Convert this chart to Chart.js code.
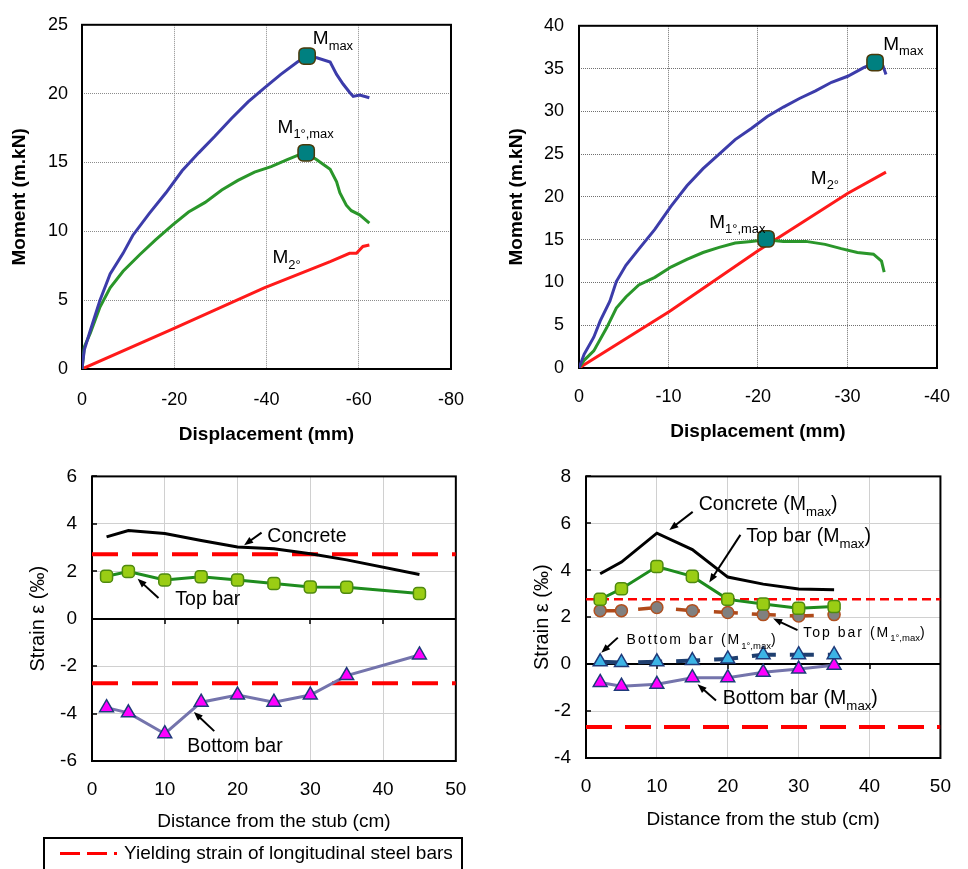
<!DOCTYPE html>
<html>
<head>
<meta charset="utf-8">
<script src="https://cdn.jsdelivr.net/npm/chart.js@4/dist/chart.umd.min.js"></script>
<style>
  body { margin: 0; background: #fff; width: 968px; height: 869px; position: relative; overflow: hidden;
         font-family: "Liberation Sans", Arial, sans-serif; }
  canvas { position: absolute; }
  #legend { position: absolute; left: 43px; top: 837px; width: 416px; height: 40px; border: 2px solid #000; }
  #legend .dash { position: absolute; left: 15px; top: 13px; width: 57px; height: 3px;
                  background: repeating-linear-gradient(90deg, #f00 0 20px, transparent 20px 27px); }
  #legend .txt { position: absolute; left: 79px; top: 3px; font-size: 19px; line-height: 22px; white-space: nowrap; }
</style>
</head>
<body>
<canvas id="momA" width="484" height="450" style="left:0;top:0"></canvas>
<canvas id="momB" width="484" height="450" style="left:484px;top:0"></canvas>
<canvas id="strA" width="484" height="390" style="left:0;top:450px"></canvas>
<canvas id="strB" width="484" height="390" style="left:484px;top:450px"></canvas>
<div id="legend"><div class="dash"></div><div class="txt">Yielding strain of longitudinal steel bars</div></div>
<script>
// moment vs displacement, beam A
var dispMaxA = [0, -0.5, -1.8, -3.9, -6.1, -8.9, -11.0, -14.6, -18.2, -21.7, -25.3, -28.8, -32.4, -36.0, -39.5, -43.1, -46.7, -48.6, -50.9, -53.8, -55.2, -56.6, -58.0, -58.8, -60.2, -62.3];
var momMaxA = [0, 1.4, 2.8, 5.0, 6.9, 8.4, 9.7, 11.3, 12.8, 14.4, 15.7, 16.9, 18.2, 19.4, 20.4, 21.4, 22.3, 22.7, 22.6, 22.3, 21.4, 20.7, 20.1, 19.8, 19.9, 19.7];
var dispM1A = [0, -0.5, -1.8, -3.9, -6.1, -8.9, -12.5, -16.0, -19.6, -23.1, -26.7, -30.3, -33.8, -37.4, -41.0, -44.5, -47.4, -48.6, -50.9, -53.8, -55.2, -55.9, -57.3, -58.4, -60.2, -62.3];
var momM1A = [0, 1.6, 2.6, 4.5, 5.9, 7.1, 8.3, 9.4, 10.45, 11.4, 12.1, 13.0, 13.7, 14.3, 14.7, 15.2, 15.6, 15.7, 15.2, 14.5, 13.6, 12.8, 11.9, 11.5, 11.2, 10.6];
var dispM2A = [0, -19.6, -39.5, -53.8, -58.0, -59.5, -60.9, -62.3];
var momM2A = [0, 2.9, 5.9, 7.8, 8.4, 8.4, 8.9, 9.0];
var peakDispA = [-48.8, -48.6];
var peakMomA = [22.73, 15.7];

// moment vs displacement, beam B
var dispMaxB = [0, -0.57, -1.65, -2.37, -3.45, -4.17, -5.24, -6.68, -8.47, -10.27, -12.06, -13.86, -15.66, -17.45, -19.25, -21.04, -22.84, -24.63, -26.43, -28.22, -30.02, -31.81, -33.07, -33.97, -34.3];
var momMaxB = [0, 1.6, 3.6, 5.5, 7.8, 10.1, 12.0, 13.9, 16.2, 18.9, 21.3, 23.3, 25.0, 26.7, 28.0, 29.4, 30.5, 31.5, 32.4, 33.4, 34.1, 35.1, 35.7, 35.3, 34.3];
var dispM1B = [0, -0.57, -1.65, -3.09, -4.17, -5.24, -6.68, -8.47, -10.27, -12.06, -13.86, -15.66, -17.45, -19.25, -20.86, -22.84, -25.35, -27.5, -29.3, -31.1, -32.9, -33.8, -34.1];
var momM1B = [0, 0.9, 2.0, 4.7, 7.0, 8.3, 9.7, 10.6, 11.8, 12.7, 13.5, 14.1, 14.6, 14.8, 15.0, 14.8, 14.8, 14.45, 13.95, 13.5, 13.3, 12.5, 11.2];
var dispM2B = [0, -10.1, -20.0, -30.0, -34.3];
var momM2B = [0, 6.6, 13.7, 20.4, 22.9];
var peakDispB = [-33.08, -20.9];
var peakMomB = [35.7, 15.1];

// strain along the beam, beam A
var distA = [2, 5, 10, 15, 20, 25, 30, 35, 45];
var concreteA = [3.45, 3.72, 3.59, 3.3, 3.02, 2.95, 2.74, 2.48, 1.86];
var topBarA = [1.79, 1.99, 1.63, 1.77, 1.63, 1.48, 1.34, 1.33, 1.06];
var bottomBarA = [-3.75, -3.97, -4.85, -3.52, -3.22, -3.52, -3.22, -2.4, -1.53];
var yieldA = [2.72, -2.72];

// strain along the beam, beam B
var distB = [2, 5, 10, 15, 20, 25, 30, 35];
var concreteB = [3.85, 4.35, 5.58, 4.88, 3.71, 3.41, 3.2, 3.17];
var topBarB = [2.76, 3.21, 4.16, 3.74, 2.76, 2.56, 2.38, 2.46];
var topBar1B = [2.28, 2.28, 2.41, 2.28, 2.2, 2.11, 2.05, 2.11];
var bottomBar1B = [0.1, 0.07, 0.1, 0.15, 0.22, 0.4, 0.4, 0.4];
var bottomBarB = [-0.78, -0.94, -0.86, -0.58, -0.58, -0.35, -0.21, -0.05];
var yieldB = [2.76, -2.68];

var distRange = [0, 50];

var FONT = '"Liberation Sans", Arial, sans-serif';
Chart.defaults.font.family = FONT;
Chart.defaults.color = '#000';
Chart.defaults.plugins.legend.display = false;
Chart.defaults.plugins.tooltip.enabled = false;

function pts(xs, ys) {
  return xs.map(function (x, i) { return { x: x, y: ys[i] }; });
}

function curve(xs, ys, color, width, dash) {
  return { data: pts(xs, ys), showLine: true, borderColor: color, borderWidth: width,
           borderDash: dash || [], pointRadius: 0, tension: 0 };
}

function marks(xs, ys, style, r, fill, edge, line, lw, dash) {
  return { data: pts(xs, ys), showLine: !!line, borderColor: line || edge, borderWidth: lw || 0,
           borderDash: dash || [], pointStyle: style, pointRadius: r, pointBackgroundColor: fill,
           pointBorderColor: edge, pointBorderWidth: 1.5, tension: 0 };
}

function level(v, width, dash) {
  return curve(distRange, [v, v], '#ff0000', width, dash);
}

function arrow(ctx, x1, y1, x2, y2) {
  var a = Math.atan2(y2 - y1, x2 - x1), h = 9, w = 3.5;
  ctx.beginPath();
  ctx.moveTo(x1, y1);
  ctx.lineTo(x2 - Math.cos(a) * h * 0.7, y2 - Math.sin(a) * h * 0.7);
  ctx.stroke();
  ctx.beginPath();
  ctx.moveTo(x2, y2);
  ctx.lineTo(x2 - h * Math.cos(a) + w * Math.sin(a), y2 - h * Math.sin(a) - w * Math.cos(a));
  ctx.lineTo(x2 - h * Math.cos(a) - w * Math.sin(a), y2 - h * Math.sin(a) + w * Math.cos(a));
  ctx.closePath();
  ctx.fill();
}

// frame, zero line and the text labels with their pointers
function notes(spec) {
  return {
    id: 'notes',
    beforeDatasetsDraw: function (chart) {
      var ctx = chart.ctx, a = chart.chartArea, sx = chart.scales.x, sy = chart.scales.y;
      ctx.save();
      ctx.strokeStyle = '#000';
      if (spec.zeroTicks) {
        var y0 = Math.round(sy.getPixelForValue(0));
        ctx.lineWidth = 2;
        ctx.beginPath();
        ctx.moveTo(a.left, y0);
        ctx.lineTo(a.right, y0);
        ctx.stroke();
        ctx.lineWidth = 1.5;
        ctx.beginPath();
        spec.zeroTicks.forEach(function (v) {
          var x = Math.round(sx.getPixelForValue(v));
          ctx.moveTo(x, y0);
          ctx.lineTo(x, y0 + 5);
        });
        sy.ticks.forEach(function (t) {
          var y = Math.round(sy.getPixelForValue(t.value));
          ctx.moveTo(a.left, y);
          ctx.lineTo(a.left + 5, y);
        });
        ctx.stroke();
      }
      ctx.lineWidth = 2;
      ctx.strokeRect(a.left, a.top, a.right - a.left, a.bottom - a.top);
      ctx.restore();
    },
    afterDatasetsDraw: function (chart) {
      var ctx = chart.ctx, sx = chart.scales.x, sy = chart.scales.y;
      ctx.save();
      ctx.strokeStyle = '#000';
      ctx.fillStyle = '#000';
      ctx.lineWidth = 2;
      (spec.arrows || []).forEach(function (p) {
        arrow(ctx, sx.getPixelForValue(p[0]), sy.getPixelForValue(p[1]),
              sx.getPixelForValue(p[2]), sy.getPixelForValue(p[3]));
      });
      ctx.textBaseline = 'alphabetic';
      ctx.textAlign = 'left';
      (spec.labels || []).forEach(function (l) {
        var x = sx.getPixelForValue(l.x), y = sy.getPixelForValue(l.y);
        l.runs.forEach(function (r) {
          var sub = r[1] === 1;
          var fs = sub ? l.size * 0.68 : l.size;
          ctx.font = fs + 'px ' + FONT;
          ctx.letterSpacing = (sub ? 0 : (l.spacing || 0)) + 'px';
          ctx.fillText(r[0], x, sub ? y + l.size * 0.3 : y);
          x += ctx.measureText(r[0]).width;
        });
      });
      ctx.restore();
    }
  };
}

function axes(g) {
  return {
    x: {
      type: 'linear', min: g.x[0], max: g.x[1], reverse: !!g.reverse,
      ticks: { stepSize: g.x[2], padding: g.xTickPad, font: { size: g.tick }, maxRotation: 0 },
      grid: { color: g.grid, drawTicks: false },
      border: { display: false, dash: g.dash },
      title: { display: true, text: g.xTitle, font: { size: 19, weight: g.bold ? 'bold' : 'normal' },
               padding: { top: 0, bottom: g.xTitlePad } },
      afterFit: function (s) { s.height = g.xHeight; }
    },
    y: {
      type: 'linear', min: g.y[0], max: g.y[1],
      ticks: { stepSize: g.y[2], padding: g.yTickPad, font: { size: g.tick } },
      grid: { color: g.grid, drawTicks: false },
      border: { display: false, dash: g.dash },
      title: { display: true, text: g.yTitle, font: { size: g.yTitleSize, weight: g.bold ? 'bold' : 'normal' },
               padding: { top: g.yTitlePad, bottom: 0 } },
      afterFit: function (s) { s.width = g.yWidth; }
    }
  };
}

function draw(id, datasets, g, spec) {
  return new Chart(document.getElementById(id).getContext('2d'), {
    type: 'scatter',
    data: { datasets: datasets },
    options: {
      responsive: false,
      animation: false,
      layout: { padding: { left: 0, top: g.padTop, right: g.padRight, bottom: 0 } },
      scales: axes(g)
    },
    plugins: [notes(spec)]
  });
}

var BLUE = '#3c3caa', GREEN = '#2a962a', RED = '#ff1a1a';

function peaks(xs, ys) {
  return marks(xs, ys, 'rectRounded', 9.5, '#008080', '#4a3a0a');
}

draw('momA', [
  peaks(peakDispA, peakMomA),
  curve(dispMaxA, momMaxA, BLUE, 3),
  curve(dispM1A, momM1A, GREEN, 3),
  curve(dispM2A, momM2A, RED, 3)
], {
  x: [-80, 0, 20], y: [0, 25, 5], reverse: true, tick: 18, bold: true,
  xTitle: 'Displacement (mm)', yTitle: 'Moment (m.kN)', yTitleSize: 19,
  grid: '#8c8c8c', dash: [1, 1],
  padTop: 20, padRight: 28, yWidth: 82, xHeight: 81,
  xTickPad: 20, yTickPad: 14, xTitlePad: 3.6, yTitlePad: 8.6
}, {
  labels: [
    { x: -50.05, y: 23.6, size: 19, runs: [['M'], ['max', 1]] },
    { x: -42.4, y: 17.17, size: 19, runs: [['M'], ['1°,max', 1]] },
    { x: -41.3, y: 7.69, size: 19, runs: [['M'], ['2°', 1]] }
  ]
});

draw('momB', [
  peaks(peakDispB, peakMomB),
  curve(dispMaxB, momMaxB, BLUE, 3),
  curve(dispM1B, momM1B, GREEN, 3),
  curve(dispM2B, momM2B, RED, 3)
], {
  x: [-40, 0, 10], y: [0, 40, 5], reverse: true, tick: 18, bold: true,
  xTitle: 'Displacement (mm)', yTitle: 'Moment (m.kN)', yTitleSize: 19,
  grid: '#707070', dash: [1, 1],
  padTop: 19, padRight: 18, yWidth: 95, xHeight: 82,
  xTickPad: 18, yTickPad: 15, xTitlePad: 6.9, yTitlePad: 21.6
}, {
  labels: [
    { x: -34.0, y: 37.2, size: 19, runs: [['M'], ['max', 1]] },
    { x: -25.9, y: 21.56, size: 19, runs: [['M'], ['2°', 1]] },
    { x: -14.55, y: 16.4, size: 19, runs: [['M'], ['1°,max', 1]] }
  ]
});

var LIME = '#9acd14', LIME_EDGE = '#4f8a10', BAR_GREEN = '#1e8c1e';
var MAGENTA = '#ff00ff', SLATE = '#7474ac', NAVY = '#1f3a7a';

draw('strA', [
  marks(distA, topBarA, 'rectRounded', 7, LIME, LIME_EDGE, BAR_GREEN, 3),
  marks(distA, bottomBarA, 'triangle', 8, MAGENTA, NAVY, SLATE, 3),
  curve(distA, concreteA, '#000', 3),
  level(yieldA[0], 4, [26, 14]),
  level(yieldA[1], 4, [26, 14])
], {
  x: [0, 50, 10], y: [-6, 6, 2], tick: 19, bold: false,
  xTitle: 'Distance from the stub (cm)', yTitle: 'Strain ε (‰)', yTitleSize: 20,
  grid: '#d0d0d0', dash: [],
  padTop: 16, padRight: 25, yWidth: 92, xHeight: 79,
  xTickPad: 17.6, yTickPad: 15, xTitlePad: 6.6, yTitlePad: 26
}, {
  zeroTicks: [10, 20, 30, 40],
  labels: [
    { x: 24.1, y: 3.22, size: 19.5, runs: [['Concrete']] },
    { x: 11.45, y: 0.58, size: 19.5, runs: [['Top bar']] },
    { x: 13.1, y: -5.6, size: 19.5, runs: [['Bottom bar']] }
  ],
  arrows: [[23.3, 3.63, 20.9, 3.10], [9.14, 0.87, 6.27, 1.68], [16.8, -4.74, 14.0, -3.93]]
});

draw('strB', [
  marks(distB, topBarB, 'rectRounded', 7, LIME, LIME_EDGE, BAR_GREEN, 3),
  marks(distB, topBar1B, 'circle', 6, '#808080', '#b05020', '#b04a1a', 3.5, [24, 14]),
  marks(distB, bottomBar1B, 'triangle', 8, '#3cb4e6', NAVY, '#1f3f6f', 4, [24, 14]),
  marks(distB, bottomBarB, 'triangle', 8, MAGENTA, NAVY, SLATE, 3),
  curve(distB, concreteB, '#000', 3),
  level(yieldB[0], 2.5, [9, 5]),
  level(yieldB[1], 4, [26, 13])
], {
  x: [0, 50, 10], y: [-4, 8, 2], tick: 19, bold: false,
  xTitle: 'Distance from the stub (cm)', yTitle: 'Strain ε (‰)', yTitleSize: 20,
  grid: '#d0d0d0', dash: [],
  padTop: 13, padRight: 17, yWidth: 102, xHeight: 82,
  xTickPad: 17, yTickPad: 15, xTitlePad: 8.6, yTitlePad: 46
}, {
  zeroTicks: [10, 20, 30, 40],
  labels: [
    { x: 15.9, y: 6.57, size: 19.5, runs: [['Concrete (M'], ['max', 1], [')']] },
    { x: 22.6, y: 5.19, size: 19.5, runs: [['Top bar (M'], ['max', 1], [')']] },
    { x: 30.66, y: 1.17, size: 14, spacing: 2, runs: [['Top bar (M'], ['1°,max', 1], [')']] },
    { x: 5.72, y: 0.84, size: 14, spacing: 2, runs: [['Bottom bar (M'], ['1°,max', 1], [')']] },
    { x: 19.3, y: -1.71, size: 19.5, runs: [['Bottom bar (M'], ['max', 1], [')']] }
  ],
  arrows: [[15.05, 6.49, 11.76, 5.72], [21.78, 5.51, 17.39, 3.48], [29.84, 1.45, 26.4, 1.94],
           [4.49, 1.13, 2.15, 0.48], [18.34, -1.55, 15.74, -0.86]]
});
</script>
</body>
</html>
